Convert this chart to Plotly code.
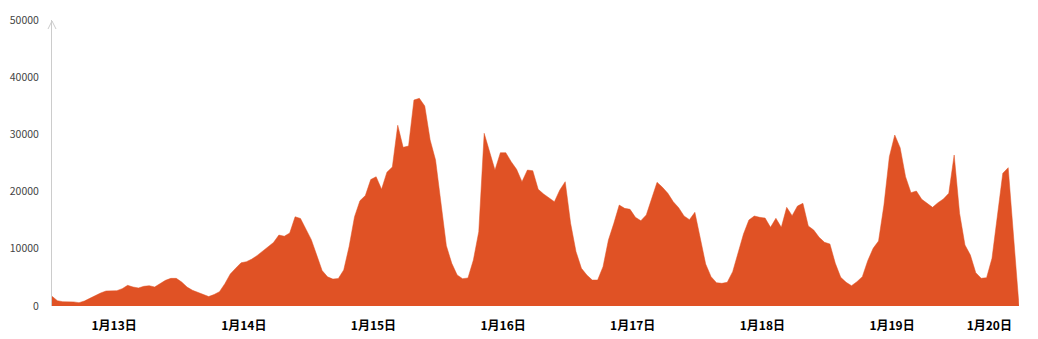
import plotly.graph_objects as go

day_labels = ["1月13日", "1月14日", "1月15日", "1月16日", "1月17日", "1月18日", "1月19日", "1月20日"]

values_d13 = [1700, 930, 750, 750, 720, 580, 870, 1340, 1860, 2270, 2620, 2680,
              2680, 3030, 3610, 3320, 3150, 3440, 3550, 3320, 3960, 4480, 4830, 4830]
values_d14 = [4200, 3300, 2750, 2350, 2000, 1650, 2000, 2500, 3900, 5600, 6600, 7550,
              7750, 8200, 8850, 9600, 10300, 11100, 12400, 12200, 12750, 15600, 15300, 13300]
values_d15 = [11600, 8900, 6200, 5100, 4700, 4800, 6300, 10400, 15600, 18400, 19300, 22100,
              22600, 20400, 23400, 24300, 31600, 27740, 27970, 36010, 36300, 34960, 29020, 25520]
values_d16 = [17950, 10540, 7460, 5420, 4780, 4900, 8040, 12990, 30190, 26970, 23770, 26800,
              26800, 25230, 23890, 21730, 23770, 23650, 20400, 19580, 18930, 18230, 20280, 21730]
values_d17 = [14450, 9500, 6590, 5420, 4540, 4540, 6870, 11540, 14450, 17650, 17070, 16900,
              15500, 14910, 15910, 18820, 21620, 20750, 19700, 18230, 17180, 15730, 15100, 16380]
values_d18 = [11830, 7340, 5130, 4080, 3960, 4140, 6000, 9210, 12590, 15030, 15730, 15500,
              15380, 13750, 15330, 13750, 17250, 15790, 17480, 17950, 13980, 13280, 12010, 11130]
values_d19 = [10840, 7460, 5010, 4140, 3550, 4250, 5130, 7920, 10080, 11360, 17650, 26100,
              29890, 27680, 22610, 19810, 20100, 18650, 17950, 17250, 18060, 18700, 19700, 26400]
values_d20 = [16200, 10660, 8910, 5820, 4840, 4950, 8340, 16200, 23190, 24180, 12110, 0]

days = [values_d13, values_d14, values_d15, values_d16,
        values_d17, values_d18, values_d19, values_d20]

values = []
tick_pos = []
for d in days:
    start = len(values)
    values.extend(d)
    tick_pos.append((start + len(values) - 1) / 2)

x = list(range(len(values)))

fig = go.Figure()
fig.add_trace(go.Scatter(
    x=x, y=values, mode="lines",
    line=dict(color="#E05225", width=0.5),
    fill="tozeroy", fillcolor="#E05225",
    hoverinfo="skip", showlegend=False,
))

fig.update_layout(
    width=1038, height=339,
    margin=dict(l=52, r=19, t=20, b=33),
    paper_bgcolor="white", plot_bgcolor="white",
    font=dict(family="Noto Sans CJK SC, Microsoft YaHei, sans-serif"),
    xaxis=dict(
        range=[0, len(values) - 1],
        tickmode="array", tickvals=tick_pos,
        ticktext=["<b>%s</b>" % t for t in day_labels],
        tickfont=dict(size=12, color="#000000"),
        showgrid=False, zeroline=False, showline=False, ticks="",
        ticklabelstandoff=11, automargin=False,
    ),
    yaxis=dict(
        range=[0, 50000],
        tickmode="array", tickvals=[0, 10000, 20000, 30000, 40000, 50000],
        ticktext=["0", "10000", "20000", "30000", "40000", "50000"],
        tickfont=dict(size=10.5, color="#444444"),
        showgrid=False, zeroline=False,
        showline=True, linecolor="#cccccc", linewidth=1, ticks="",
        ticklabelstandoff=10, automargin=False,
    ),
)

fig.add_shape(
    type="path", xref="paper", yref="paper",
    xsizemode="pixel", ysizemode="pixel", xanchor=0, yanchor=1,
    path="M -4,-9 L 0,-1 L 4,-9",
    line=dict(color="#cccccc", width=1),
)

fig.write_html("out.html")
